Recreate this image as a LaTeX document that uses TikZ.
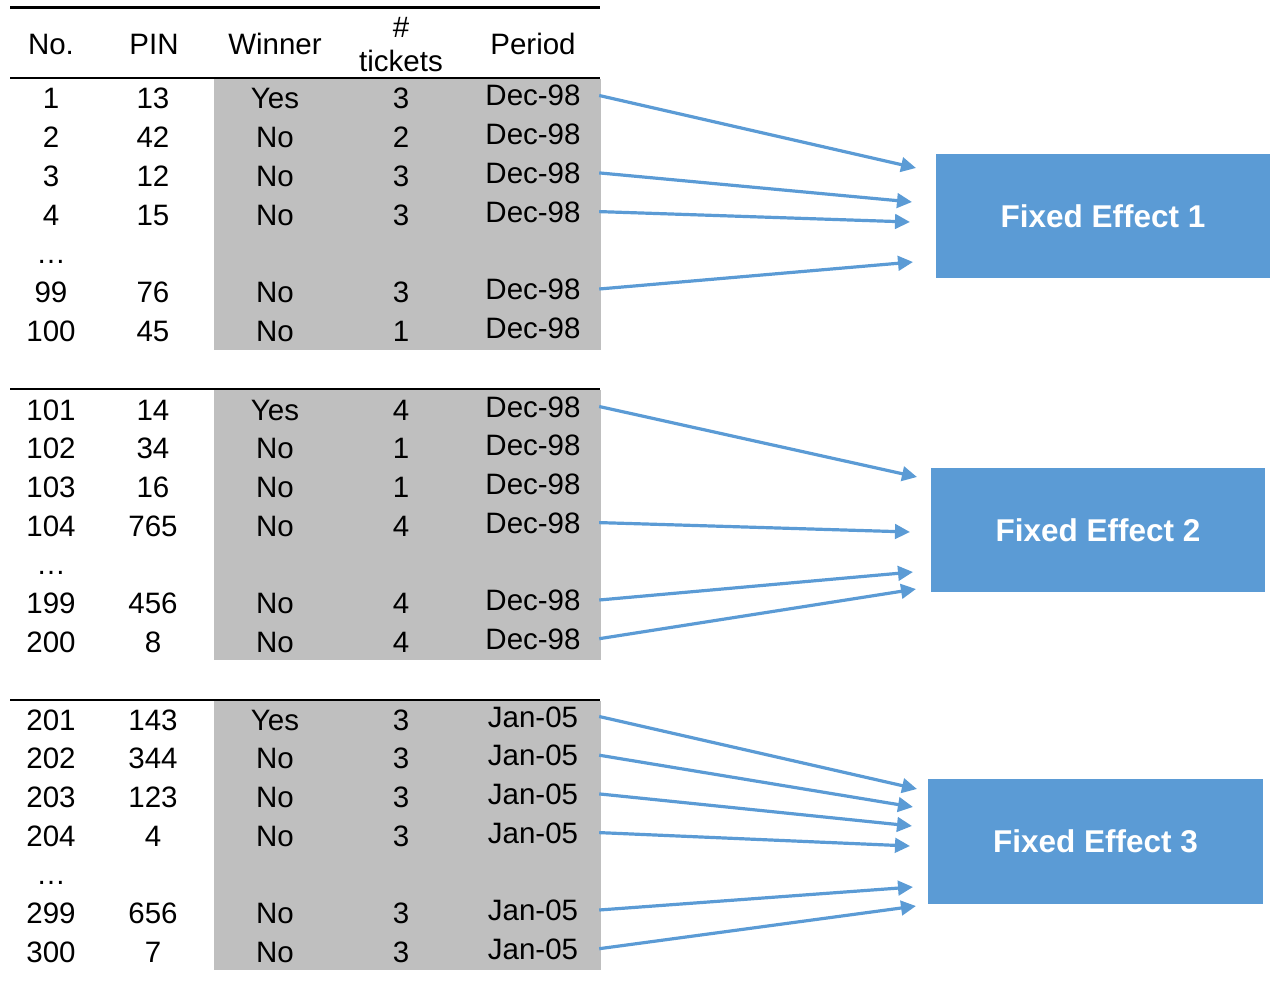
\documentclass[tikz,border=0pt]{standalone}
\usepackage{fontspec}
\setmainfont{Liberation Sans}
\usetikzlibrary{arrows.meta}
\definecolor{cellgray}{HTML}{BFBFBF}
\definecolor{feblue}{HTML}{5B9BD5}

% one data row: name prefix, baseline, No., PIN, Winner, # tickets, Period
\newcommand{\fxrow}[7]{%
  \node[cell] (#1-no)  at (51,#2)  {#3};
  \node[cell] (#1-pin) at (153,#2) {#4};
  \node[cell] (#1-win) at (275,#2) {#5};
  \node[cell] (#1-tk)  at (401,#2) {#6};
  \node[pcell] (#1-per) at (533,#2-3) {#7};
}

\begin{document}
\begin{tikzpicture}[x=1pt,y=-1pt,
  cell/.style={anchor=base, inner sep=0pt, text height=21pt, text depth=0pt,
               font=\fontsize{29.5}{33}\selectfont},
  pcell/.style={cell, minimum width=132pt},
  febox/.style={fill=feblue, draw=none, inner sep=0pt,
                minimum width=334pt, minimum height=124pt, text=white,
                font=\fontsize{31.5}{34}\selectfont\bfseries},
  link/.style={draw=feblue, line width=3.2pt, -{Triangle[length=15pt,width=14.5pt]}},
  rulethin/.style={line width=2pt},
  rulethick/.style={line width=3pt}
]
\useasboundingbox (0,0) rectangle (1271,1008);

% shaded blocks behind Winner .. Period
\fill[cellgray] (214,79)  rectangle (601,350);
\fill[cellgray] (214,390) rectangle (601,660);
\fill[cellgray] (214,701) rectangle (601,970);

% horizontal rules
\draw[rulethick] (10,8) -- (600,8);
\draw[rulethin] (10,78) -- (600,78);
\draw[rulethin] (10,389) -- (600,389);
\draw[rulethin] (10,700) -- (600,700);

% header
\node[cell] (h-no)  at (51,55)  {No.};
\node[cell] (h-pin) at (154,55) {PIN};
\node[cell] (h-win) at (275,55) {Winner};
\node[cell] (h-hash) at (401,38) {\#};
\node[cell] (h-tk)  at (401,72) {tickets};
\node[cell] (h-per) at (533,55) {Period};

% block 1
\fxrow{r1}{109}{1}{13}{Yes}{3}{Dec-98}
\fxrow{r2}{147.7}{2}{42}{No}{2}{Dec-98}
\fxrow{r3}{186.4}{3}{12}{No}{3}{Dec-98}
\fxrow{r4}{225.1}{4}{15}{No}{3}{Dec-98}
\node[cell] (e1) at (51,263.8) {…};
\fxrow{r99}{302.5}{99}{76}{No}{3}{Dec-98}
\fxrow{r100}{341.2}{100}{45}{No}{1}{Dec-98}

% block 2
\fxrow{r101}{420}{101}{14}{Yes}{4}{Dec-98}
\fxrow{r102}{458.7}{102}{34}{No}{1}{Dec-98}
\fxrow{r103}{497.4}{103}{16}{No}{1}{Dec-98}
\fxrow{r104}{536.1}{104}{765}{No}{4}{Dec-98}
\node[cell] (e2) at (51,574.8) {…};
\fxrow{r199}{613.5}{199}{456}{No}{4}{Dec-98}
\fxrow{r200}{652.2}{200}{8}{No}{4}{Dec-98}

% block 3
\fxrow{r201}{730}{201}{143}{Yes}{3}{Jan-05}
\fxrow{r202}{768.7}{202}{344}{No}{3}{Jan-05}
\fxrow{r203}{807.4}{203}{123}{No}{3}{Jan-05}
\fxrow{r204}{846.1}{204}{4}{No}{3}{Jan-05}
\node[cell] (e3) at (51,884.8) {…};
\fxrow{r299}{923.5}{299}{656}{No}{3}{Jan-05}
\fxrow{r300}{962.2}{300}{7}{No}{3}{Jan-05}

% fixed-effect boxes
\node[febox] (fe1) at (1103,216)    {Fixed Effect 1};
\node[febox] (fe2) at (1098,530)    {Fixed Effect 2};
\node[febox, minimum width=335pt, minimum height=125pt] (fe3) at (1095.5,841.5) {Fixed Effect 3};

% arrow tips in front of the boxes
\coordinate (a1) at (916,168);
\coordinate (a3) at (912,202);
\coordinate (a4) at (910,222);
\coordinate (a99) at (913,262);
\coordinate (a101) at (917,477);
\coordinate (a104) at (910,532);
\coordinate (a199) at (913,572);
\coordinate (a200) at (916,589);
\coordinate (a201) at (917,789);
\coordinate (a202) at (913,807);
\coordinate (a203) at (912,826);
\coordinate (a204) at (910,846);
\coordinate (a299) at (913,887);
\coordinate (a300) at (916,906);

% connectors
\foreach \r in {1,3,4,99,101,104,199,200,201,202,203,204,299,300}
  \draw[link] (r\r-per.east) -- (a\r);

\end{tikzpicture}
\end{document}
